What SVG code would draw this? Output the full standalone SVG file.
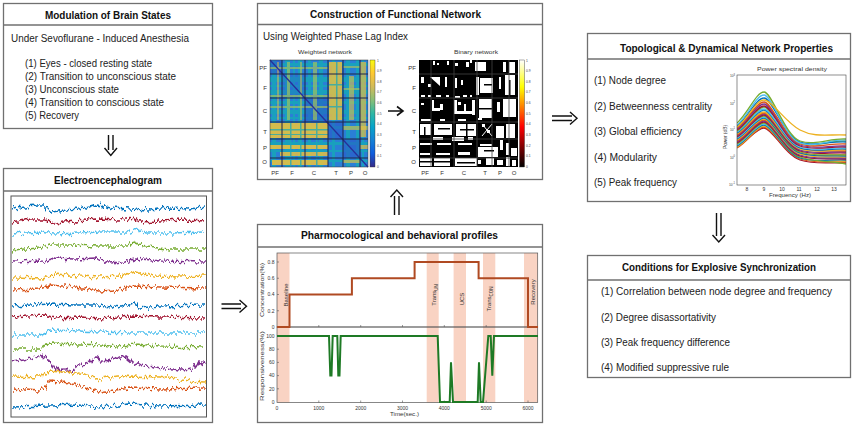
<svg xmlns="http://www.w3.org/2000/svg" width="854" height="426" viewBox="0 0 854 426">
<style>
.box{fill:#fff;stroke:#707070;stroke-width:1.3}
.sep{stroke:#707070;stroke-width:1.3}
.title{font-family:"Liberation Sans",Arial,sans-serif;font-weight:bold;font-size:10.5px;fill:#111;text-anchor:middle}
.body{font-family:"Liberation Sans",Arial,sans-serif;font-size:10px;fill:#222}
.small{font-family:"Liberation Sans",Arial,sans-serif;font-size:6px;fill:#333}
.tiny{font-family:"Liberation Sans",Arial,sans-serif;font-size:5px;fill:#333}
.micro{font-family:"Liberation Sans",Arial,sans-serif;font-size:3.3px;fill:#444}
.ax{fill:none;stroke:#555;stroke-width:0.7}
.trace{fill:none;stroke-width:1.7;stroke-linejoin:round}
.psd{fill:none;stroke-width:1.3}
.arr{fill:none;stroke:#111;stroke-width:1.4}
.band{fill:#f9d3c3}
.wh{fill:#fff}
</style>
<defs>
<linearGradient id="parula" x1="0" y1="1" x2="0" y2="0">
<stop offset="0" stop-color="#352a87"/><stop offset="0.125" stop-color="#0f5cdd"/><stop offset="0.25" stop-color="#1481d6"/><stop offset="0.375" stop-color="#06a4ca"/><stop offset="0.5" stop-color="#2eb7a4"/><stop offset="0.625" stop-color="#87bf77"/><stop offset="0.75" stop-color="#d1bb59"/><stop offset="0.875" stop-color="#fec832"/><stop offset="1" stop-color="#f9fb0e"/>
</linearGradient>
<linearGradient id="hot" x1="0" y1="1" x2="0" y2="0">
<stop offset="0" stop-color="#000"/><stop offset="0.375" stop-color="#f00"/><stop offset="0.75" stop-color="#ff0"/><stop offset="1" stop-color="#fff"/>
</linearGradient>
<filter id="eegNoise" filterUnits="userSpaceOnUse" x="11" y="196" width="196" height="222">
<feTurbulence type="fractalNoise" baseFrequency="0.42 0.07" numOctaves="2" seed="5" result="n"/>
<feDisplacementMap in="SourceGraphic" in2="n" scale="9" xChannelSelector="R" yChannelSelector="G"/>
</filter>
<clipPath id="eegClip"><rect x="12" y="197" width="194" height="219"/></clipPath>
<clipPath id="psdClip"><rect x="737" y="75" width="109" height="110"/></clipPath>
</defs>
<rect width="854" height="426" fill="#fff"/>

<g id="n-brain-states">
<rect class="box" x="3.5" y="3.5" width="209" height="125"/>
<line class="sep" x1="3.5" y1="25" x2="212.5" y2="25"/>
<text class="title" x="108" y="18.5" textLength="126" lengthAdjust="spacingAndGlyphs">Modulation of Brain States</text>
<text class="body" x="11" y="42" textLength="178" lengthAdjust="spacingAndGlyphs">Under Sevoflurane - Induced Anesthesia</text>
<text class="body" x="25" y="67" textLength="127" lengthAdjust="spacingAndGlyphs">(1) Eyes - closed resting state</text>
<text class="body" x="25" y="80" textLength="151" lengthAdjust="spacingAndGlyphs">(2) Transition to unconscious state</text>
<text class="body" x="25" y="93" textLength="94" lengthAdjust="spacingAndGlyphs">(3) Unconscious state</text>
<text class="body" x="25" y="106" textLength="139" lengthAdjust="spacingAndGlyphs">(4) Transition to conscious state</text>
<text class="body" x="25" y="119" textLength="54" lengthAdjust="spacingAndGlyphs">(5) Recovery</text>
</g>

<g id="n-eeg">
<rect class="box" x="3.5" y="168.5" width="209" height="254"/>
<line class="sep" x1="3.5" y1="191" x2="212.5" y2="191"/>
<text class="title" x="108" y="184" textLength="108" lengthAdjust="spacingAndGlyphs">Electroencephalogram</text>
<rect x="11" y="196" width="195.5" height="221" fill="#fff" stroke="#555" stroke-width="1"/>
<g clip-path="url(#eegClip)">
<g filter="url(#eegNoise)">
<path class="trace" stroke="#0072BD" d="M12,209 L25,207 L38,206 L45,206 L52,212 L65,210 L80,209 L97,205 L110,208 L130,209 L150,210 L170,208 L190,209 L205,207"/>
<path class="trace" stroke="#A2142F" d="M12,222 L30,219 L45,219 L55,223 L75,221 L97,219 L120,220 L135,218 L140,222 L160,221 L185,220 L205,221"/>
<path class="trace" stroke="#4DBEEE" d="M12,234 L40,232 L55,234 L80,233 L100,232 L130,232 L137,229 L145,233 L170,233 L205,232"/>
<path class="trace" stroke="#77AC30" d="M12,250 L40,248 L50,245 L70,245 L100,246 L128,246 L134,242 L145,247 L170,249 L205,249"/>
<path class="trace" stroke="#7E2F8E" d="M12,262 L45,261 L55,258 L75,259 L95,258 L108,263 L125,262 L135,258 L160,261 L205,262"/>
<path class="trace" stroke="#EDB120" d="M12,277 L45,278 L55,274 L80,276 L100,277 L120,276 L135,272 L155,276 L180,277 L205,276"/>
<path class="trace" stroke="#D95319" d="M12,290 L40,289 L50,285 L75,287 L100,291 L115,290 L133,286 L160,287 L205,288"/>
<path class="trace" stroke="#0072BD" d="M12,306 L50,304 L75,305 L100,305 L118,308 L135,303 L140,308 L160,306 L205,305"/>
<path class="trace" stroke="#A2142F" d="M12,317 L45,315 L55,318 L80,317 L100,319 L130,316 L160,317 L205,318"/>
<path class="trace" stroke="#4DBEEE" d="M12,335 L40,335 L50,330 L80,331 L100,332 L130,333 L160,333 L205,333"/>
<path class="trace" stroke="#77AC30" d="M12,349 L40,349 L50,343 L80,344 L100,345 L120,347 L135,344 L160,346 L205,347"/>
<path class="trace" stroke="#7E2F8E" d="M12,362 L25,360 L40,356 L48,358 L55,368 L60,372 L65,367 L70,374 L75,366 L85,364 L97,357 L103,362 L112,359 L125,356 L133,363 L145,366 L165,368 L180,370 L195,369 L200,361 L205,364"/>
<path class="trace" stroke="#EDB120" d="M12,376 L40,377 L50,371 L75,373 L100,379 L130,376 L160,377 L190,381 L205,382"/>
<path class="trace" stroke="#D95319" d="M12,389 L40,391 L50,381 L70,383 L100,392 L130,388 L160,389 L205,388"/>
<path class="trace" stroke="#0072BD" d="M12,407 L50,406 L80,405 L100,407 L130,404 L160,406 L205,405"/>
</g>
</g>
</g>

<g id="n-network">
<rect class="box" x="257.5" y="3.5" width="285" height="176"/>
<line class="sep" x1="257.5" y1="24.5" x2="542.5" y2="24.5"/>
<text class="title" x="395.5" y="18" textLength="171" lengthAdjust="spacingAndGlyphs">Construction of Functional Network</text>
<text class="body" x="263" y="40" font-size="10.5" textLength="145" lengthAdjust="spacingAndGlyphs">Using Weighted Phase Lag Index</text>
<text class="small" x="325" y="54" text-anchor="middle" textLength="54" lengthAdjust="spacingAndGlyphs">Weighted network</text>
<text class="small" x="476" y="54" text-anchor="middle" textLength="44" lengthAdjust="spacingAndGlyphs">Binary network</text>
<g id="wmat">
<rect x="270" y="60" width="98" height="107" fill="#2a7fd6"/>
<g fill="#17a6b9" opacity="0.85">
<rect x="272" y="60" width="4" height="107"/><rect x="285" y="60" width="5" height="107"/><rect x="293" y="60" width="2" height="107"/><rect x="298" y="60" width="4" height="107"/><rect x="308" y="60" width="3" height="107"/><rect x="319" y="60" width="4" height="107"/><rect x="332" y="60" width="3" height="107"/><rect x="346" y="60" width="4" height="107"/><rect x="356" y="60" width="3" height="107"/><rect x="362" y="60" width="2" height="107"/>
<rect x="270" y="63" width="98" height="3"/><rect x="270" y="77" width="98" height="5"/><rect x="270" y="85" width="98" height="2"/><rect x="270" y="90" width="98" height="4"/><rect x="270" y="101" width="98" height="3"/><rect x="270" y="110" width="98" height="4"/><rect x="270" y="117" width="98" height="2"/><rect x="270" y="126" width="98" height="3"/><rect x="270" y="142" width="98" height="3"/><rect x="270" y="150" width="98" height="2"/><rect x="270" y="160" width="98" height="2"/>
</g>
<g fill="#2b54c9" opacity="0.55">
<rect x="270" y="60" width="12" height="14"/><rect x="305" y="98" width="23" height="24"/><rect x="328" y="122" width="15" height="17"/><rect x="343" y="139" width="17" height="19"/>
</g>
<rect x="282" y="74" width="23" height="24" fill="#2b54c9" opacity="0.3"/>
<g fill="#f2c23a">
<rect x="329" y="62" width="13" height="58" opacity="0.8"/>
<rect x="270" y="123" width="58" height="15" opacity="0.85"/>
<rect x="270" y="145" width="58" height="4" opacity="0.85"/>
<rect x="280" y="152" width="48" height="4" opacity="0.8"/>
<rect x="272" y="160" width="56" height="5" opacity="0.85"/>
<rect x="360" y="62" width="6" height="75" opacity="0.65"/>
<rect x="349" y="76" width="5" height="44" opacity="0.55"/>
<rect x="343" y="126" width="25" height="4" opacity="0.55"/>
<rect x="360" y="145" width="8" height="4" opacity="0.65"/>
<rect x="343" y="160" width="17" height="3" opacity="0.6"/>
<rect x="300" y="62" width="2" height="58" opacity="0.45"/>
<rect x="277" y="62" width="2" height="58" opacity="0.45"/>
</g>
<g fill="#a9c657" opacity="0.65">
<rect x="287" y="62" width="3" height="58"/><rect x="313" y="62" width="4" height="58"/><rect x="270" y="67" width="58" height="2"/><rect x="270" y="95" width="58" height="2"/><rect x="270" y="106" width="58" height="2"/><rect x="343" y="66" width="17" height="2"/><rect x="343" y="88" width="17" height="2"/>
</g>
<g fill="#1ea9b6" opacity="0.75">
<rect x="270" y="129" width="58" height="1.5"/><rect x="270" y="134" width="58" height="1"/><rect x="290" y="123" width="1.5" height="44"/><rect x="300" y="123" width="1.5" height="44"/><rect x="316" y="123" width="1.5" height="44"/><rect x="329" y="84" width="13" height="1.5"/><rect x="329" y="106" width="13" height="1.5"/><rect x="336" y="62" width="1.5" height="58"/>
</g>
<line x1="270" y1="60" x2="368" y2="167" stroke="#26309a" stroke-width="1.3"/>
<g stroke="#1e2548" stroke-width="1">
<line x1="282" y1="60" x2="282" y2="167"/><line x1="305" y1="60" x2="305" y2="167"/><line x1="328" y1="60" x2="328" y2="167"/><line x1="343" y1="60" x2="343" y2="167"/><line x1="360" y1="60" x2="360" y2="167"/>
<line x1="270" y1="74" x2="368" y2="74"/><line x1="270" y1="98" x2="368" y2="98"/><line x1="270" y1="122" x2="368" y2="122"/><line x1="270" y1="139" x2="368" y2="139"/><line x1="270" y1="158" x2="368" y2="158"/>
</g>
<rect x="270" y="60" width="98" height="107" fill="none" stroke="#333" stroke-width="0.5"/>
<rect x="370" y="60" width="5" height="107" fill="url(#parula)" stroke="#333" stroke-width="0.4"/>
</g>
<g class="micro">
<text x="377" y="62">1</text><text x="377" y="72">0.9</text><text x="377" y="82.5">0.8</text><text x="377" y="93">0.7</text><text x="377" y="104">0.6</text><text x="377" y="114.5">0.5</text><text x="377" y="125">0.4</text><text x="377" y="136">0.3</text><text x="377" y="146.5">0.2</text><text x="377" y="157">0.1</text><text x="377" y="168">0</text>
<text x="526" y="62">1</text><text x="526" y="72">0.9</text><text x="526" y="82.5">0.8</text><text x="526" y="93">0.7</text><text x="526" y="104">0.6</text><text x="526" y="114.5">0.5</text><text x="526" y="125">0.4</text><text x="526" y="136">0.3</text><text x="526" y="146.5">0.2</text><text x="526" y="157">0.1</text><text x="526" y="168">0</text>
</g>
<g class="small" text-anchor="end">
<text x="267" y="70">PF</text><text x="267" y="90">F</text><text x="267" y="113">C</text><text x="267" y="134">T</text><text x="267" y="150">P</text><text x="267" y="164">O</text>
<text x="416" y="70">PF</text><text x="416" y="90">F</text><text x="416" y="113">C</text><text x="416" y="134">T</text><text x="416" y="150">P</text><text x="416" y="164">O</text>
</g>
<g class="small" text-anchor="middle">
<text x="275" y="175">PF</text><text x="292" y="175">F</text><text x="314" y="175">C</text><text x="336" y="175">T</text><text x="351" y="175">P</text><text x="365" y="175">O</text>
<text x="425" y="175">PF</text><text x="442" y="175">F</text><text x="464" y="175">C</text><text x="485" y="175">T</text><text x="500" y="175">P</text><text x="514" y="175">O</text>
</g>
<path d="M388,111 H402 M397,106.5 L403,111 L397,115.5" fill="none" stroke="#111" stroke-width="1.6"/>
<g id="bmat">
<rect x="419" y="60" width="99" height="107" fill="#000"/>
<g class="wh">
<rect x="433" y="61" width="2" height="4"/><rect x="437" y="63" width="2" height="2"/><rect x="447" y="61" width="2" height="4"/><rect x="455" y="63" width="3" height="3"/><rect x="466" y="62" width="3" height="5"/><rect x="470" y="60" width="2" height="3"/><rect x="475" y="62" width="11" height="9"/><rect x="503" y="62" width="3" height="10"/><rect x="509" y="62" width="6" height="11"/>
<rect x="421" y="77" width="3" height="6"/><polygon points="430,77 440,77 440,86"/><rect x="428" y="84" width="3" height="3"/><rect x="445" y="77" width="2" height="10"/><rect x="455" y="78" width="2" height="10"/><rect x="461" y="80" width="2" height="5"/><rect x="476" y="77" width="3" height="18"/><rect x="480" y="78" width="13" height="15"/><rect x="499" y="77" width="2" height="12"/><rect x="505" y="75" width="10" height="20"/>
<rect x="421" y="95" width="4" height="2"/><rect x="428" y="95" width="3" height="2"/><rect x="436" y="95" width="5" height="2"/><rect x="446" y="95" width="3" height="2"/><rect x="455" y="96" width="5" height="2"/><rect x="463" y="95" width="4" height="2"/><rect x="470" y="95" width="2" height="2"/>
<rect x="421" y="103" width="3" height="2"/><rect x="432" y="100" width="2" height="10"/><rect x="432" y="108" width="8" height="3"/><rect x="440" y="104" width="3" height="6"/><rect x="454" y="100" width="3" height="14"/><rect x="458" y="102" width="3" height="3"/><rect x="464" y="104" width="2" height="8"/><rect x="455" y="111" width="18" height="3"/><rect x="472" y="100" width="3" height="15"/>
<rect x="479" y="99" width="13" height="19"/><rect x="497" y="102" width="3" height="10"/><rect x="503" y="99" width="13" height="18"/>
<rect x="421" y="119" width="10" height="2"/><rect x="440" y="119" width="5" height="2"/><rect x="458" y="119" width="8" height="2"/><rect x="478" y="118" width="4" height="2"/>
<rect x="420" y="124" width="11" height="11"/><rect x="434" y="124" width="18" height="11"/><rect x="456" y="124" width="20" height="12"/><rect x="482" y="124" width="3" height="3"/><rect x="487" y="130" width="3" height="3"/><rect x="496" y="126" width="8" height="12"/><rect x="506" y="124" width="9" height="14"/>
<rect x="433" y="137" width="10" height="3"/><rect x="452" y="137" width="12" height="4"/><rect x="468" y="137" width="5" height="3"/>
<rect x="420" y="143" width="12" height="2"/><rect x="437" y="143" width="14" height="2"/><rect x="458" y="143" width="14" height="2"/><rect x="480" y="144" width="12" height="2"/>
<rect x="478" y="147" width="20" height="10"/><rect x="500" y="140" width="3" height="10"/><rect x="506" y="143" width="3" height="12"/><rect x="511" y="148" width="6" height="8"/>
<rect x="420" y="153" width="10" height="2"/><rect x="436" y="153" width="14" height="2"/><rect x="458" y="152" width="12" height="3"/>
<rect x="420" y="158" width="12" height="8"/><rect x="434" y="158" width="16" height="8"/><rect x="455" y="158" width="22" height="8"/><rect x="478" y="160" width="3" height="4"/><rect x="486" y="158" width="8" height="7"/><rect x="497" y="160" width="6" height="5"/><rect x="506" y="157" width="4" height="9"/><rect x="512" y="160" width="4" height="6"/>
</g>
<g fill="#000"><rect x="420" y="161" width="30" height="1.5"/><rect x="457" y="162" width="18" height="1.5"/><rect x="438" y="128" width="12" height="1.5"/><rect x="460" y="129" width="14" height="1.5"/><rect x="424" y="127" width="1.5" height="8"/><rect x="466" y="124" width="1.5" height="12"/><rect x="484" y="150" width="10" height="1.5"/><rect x="509" y="80" width="1.5" height="15"/><rect x="484" y="84" width="8" height="1.5"/><rect x="479" y="108" width="13" height="1.5"/></g>
<line x1="482" y1="124" x2="492" y2="136" stroke="#fff" stroke-width="1"/>
<line x1="492" y1="124" x2="482" y2="136" stroke="#fff" stroke-width="1"/>
<g stroke="#444" stroke-width="0.8">
<line x1="431" y1="60" x2="431" y2="167"/><line x1="454" y1="60" x2="454" y2="167"/><line x1="477" y1="60" x2="477" y2="167"/><line x1="492" y1="60" x2="492" y2="167"/><line x1="509" y1="60" x2="509" y2="167"/>
<line x1="419" y1="74" x2="518" y2="74"/><line x1="419" y1="98" x2="518" y2="98"/><line x1="419" y1="122" x2="518" y2="122"/><line x1="419" y1="139" x2="518" y2="139"/><line x1="419" y1="158" x2="518" y2="158"/>
</g>
<rect x="519.5" y="60" width="5" height="107" fill="url(#hot)" stroke="#333" stroke-width="0.4"/>
</g>
</g>

<g id="n-profiles">
<rect class="box" x="257.5" y="224.5" width="285" height="198"/>
<line class="sep" x1="257.5" y1="247" x2="542.5" y2="247"/>
<text class="title" x="399.5" y="239" textLength="197" lengthAdjust="spacingAndGlyphs">Pharmocological and behavioral profiles</text>
<g>
<rect class="band" x="277" y="253" width="12.5" height="149.5"/>
<rect class="band" x="426.7" y="253" width="12" height="149.5"/>
<rect class="band" x="453.6" y="253" width="12.4" height="149.5"/>
<rect class="band" x="483" y="253" width="12.3" height="149.5"/>
<rect class="band" x="524" y="253" width="13.7" height="149.5"/>
</g>
<rect class="ax" x="277" y="253" width="260.7" height="74"/>
<rect class="ax" x="277" y="327" width="260.7" height="75.5"/>
<g stroke="#555" stroke-width="0.6">
<path d="M277,310.75 h2 M277,294.5 h2 M277,278.25 h2 M277,262 h2 M277,349.2 h2 M277,362.4 h2 M277,375.6 h2 M277,388.8 h2 M277,336 h2"/>
<path d="M318.8,402.5 v-2 M360.7,402.5 v-2 M402.5,402.5 v-2 M444.3,402.5 v-2 M486.2,402.5 v-2 M528,402.5 v-2 M318.8,327 v-2 M360.7,327 v-2 M402.5,327 v-2 M444.3,327 v-2 M486.2,327 v-2 M528,327 v-2"/>
</g>
<g class="tiny" text-anchor="end">
<text x="274.5" y="329">0</text><text x="274.5" y="312.5">0.2</text><text x="274.5" y="296.3">0.4</text><text x="274.5" y="280">0.6</text><text x="274.5" y="263.8">0.8</text>
<text x="274.5" y="338">100</text><text x="274.5" y="351">80</text><text x="274.5" y="364.2">60</text><text x="274.5" y="377.4">40</text><text x="274.5" y="390.6">20</text><text x="274.5" y="403.8">0</text>
</g>
<g class="tiny" text-anchor="middle">
<text x="277" y="409.5">0</text><text x="318.8" y="409.5">1000</text><text x="360.7" y="409.5">2000</text><text x="402.5" y="409.5">3000</text><text x="444.3" y="409.5">4000</text><text x="486.2" y="409.5">5000</text><text x="528" y="409.5">6000</text>
</g>
<text class="small" x="404.5" y="415.5" text-anchor="middle" textLength="29" lengthAdjust="spacingAndGlyphs">Time(sec.)</text>
<text class="small" transform="translate(264,290) rotate(-90)" text-anchor="middle" textLength="54" lengthAdjust="spacingAndGlyphs">Concentration(%)</text>
<text class="small" transform="translate(264,366) rotate(-90)" text-anchor="middle" textLength="70" lengthAdjust="spacingAndGlyphs">Responsiveness(%)</text>
<g class="small" font-size="6.5" fill="#444" text-anchor="middle">
<text transform="translate(287.5,295) rotate(-90)">Baseline</text>
<text transform="translate(435.5,295) rotate(-90)">Trans<tspan font-size="4.5" dy="2">UN</tspan></text>
<text transform="translate(464,299) rotate(-90)">UCS</text>
<text transform="translate(491,299) rotate(-90)">Trans<tspan font-size="4.5" dy="2">CON</tspan></text>
<text transform="translate(535,292) rotate(-90)">Recovery</text>
</g>
<path d="M277,327 H289.5 V294.5 H351.9 V278.3 H414.6 V262 H478.6 V278.3 H528 V327 H538" fill="none" stroke="#b04a22" stroke-width="2"/>
<path d="M277,336 H329 L330.3,375.6 H331.5 L332.7,336 H337.3 L338.3,375.6 H339.5 L340.7,336 H437.7 L440,402 H449.7 L451,362.4 L453,402 H477.7 L479,362.4 L480.7,402 H483 L488.3,336 H490.7 L492.3,375.6 L494,336 H538" fill="none" stroke="#1e7a25" stroke-width="2"/>
</g>

<g id="n-properties">
<rect class="box" x="587.5" y="33.5" width="263" height="168"/>
<line class="sep" x1="587.5" y1="59" x2="850.5" y2="59"/>
<text class="title" x="726.5" y="52" textLength="213" lengthAdjust="spacingAndGlyphs">Topological &amp; Dynamical Network Properties</text>
<text class="body" x="594" y="84" textLength="72" lengthAdjust="spacingAndGlyphs">(1) Node degree</text>
<text class="body" x="594" y="109.5" textLength="118" lengthAdjust="spacingAndGlyphs">(2) Betweenness centrality</text>
<text class="body" x="594" y="135" textLength="88" lengthAdjust="spacingAndGlyphs">(3) Global efficiency</text>
<text class="body" x="594" y="160.5" textLength="63" lengthAdjust="spacingAndGlyphs">(4) Modularity</text>
<text class="body" x="594" y="186" textLength="83" lengthAdjust="spacingAndGlyphs">(5) Peak frequency</text>
<text class="small" x="792" y="70.5" text-anchor="middle" textLength="70" lengthAdjust="spacingAndGlyphs">Power spectral density</text>
<g clip-path="url(#psdClip)">
<path class="psd" stroke="#A2142F" d="M737,147 C748,141.3 756,128 764,128 S785,155 800,160 S830,162 846,163"/>
<path class="psd" stroke="#D95319" d="M737,148 C748,141.7 756,127 764,127 S785,154 800,159 S830,161 846,162"/>
<path class="psd" stroke="#EDB120" d="M737,147 C748,140.7 756,126 764,126 S785,153 800,158 S830,160 846,161"/>
<path class="psd" stroke="#0072BD" d="M737,146 C748,139.7 756,125 764,125 S785,153 800,158 S830,159 846,160"/>
<path class="psd" stroke="#4DBEEE" d="M737,145 C748,138.7 756,124 764,124 S785,151 800,156 S830,157 846,158"/>
<path class="psd" stroke="#77AC30" d="M737,144 C748,137.7 756,123 764,123 S785,152 800,157 S830,161 846,164"/>
<path class="psd" stroke="#A2142F" d="M737,143 C748,136.7 756,122 764,122 S785,151 800,156 S830,158 846,159"/>
<path class="psd" stroke="#7E2F8E" d="M737,142 C748,135.7 756,121 764,121 S785,150 800,155 S830,157 846,158"/>
<path class="psd" stroke="#D95319" d="M737,141 C748,134.7 756,120 764,120 S785,148 800,153 S830,154 846,155"/>
<path class="psd" stroke="#EDB120" d="M737,140 C748,133.7 756,119 764,119 S785,149 800,154 S830,156 846,157"/>
<path class="psd" stroke="#0072BD" d="M737,139 C748,132.7 756,118 764,118 S785,148 800,153 S830,155 846,156"/>
<path class="psd" stroke="#4DBEEE" d="M737,138 C748,131.7 756,117 764,117 S785,145 800,150 S830,151 846,152"/>
<path class="psd" stroke="#77AC30" d="M737,136 C748,130 756,116 764,116 S785,147 800,152 S830,154 846,155"/>
<path class="psd" stroke="#A2142F" d="M737,137 C748,130.4 756,115 764,115 S785,146 800,151 S830,152 846,153"/>
<path class="psd" stroke="#7E2F8E" d="M737,136 C748,129.4 756,114 764,114 S785,145 800,150 S830,151 846,152"/>
<path class="psd" stroke="#D95319" d="M737,135 C748,128.4 756,113 764,113 S785,143 800,148 S830,150 846,151"/>
<path class="psd" stroke="#EDB120" d="M737,134 C748,127.4 756,112 764,112 S785,144 800,149 S830,149 846,150"/>
<path class="psd" stroke="#0072BD" d="M737,133 C748,126.1 756,110 764,110 S785,143 800,148 S830,148 846,149"/>
<path class="psd" stroke="#4DBEEE" d="M737,132 C748,125.1 756,109 764,109 S785,142 800,147 S830,147 846,148"/>
<path class="psd" stroke="#77AC30" d="M737,131 C748,123.8 756,107 764,107 S785,138 800,143 S830,140 846,141"/>
<path class="psd" stroke="#A2142F" d="M737,130 C748,122.8 756,106 764,106 S785,141 800,146 S830,146 846,147"/>
<path class="psd" stroke="#7E2F8E" d="M737,129 C748,121.5 756,104 764,104 S785,140 800,145 S830,145 846,146"/>
<path class="psd" stroke="#D95319" d="M737,128 C748,120.2 756,102 764,102 S785,139 800,144 S830,143 846,144"/>
<path class="psd" stroke="#0072BD" d="M737,126 C748,117.6 756,98 764,98 S785,137 800,142 S830,141 846,142"/>
<path class="psd" stroke="#4DBEEE" d="M737,125 C748,116 756,95 764,95 S785,138 800,143 S830,139 846,140"/>
<path class="psd" stroke="#77AC30" d="M737,123 C748,113.7 756,92 764,92 S785,136 800,141 S830,138 846,139"/>
<path class="psd" stroke="#EDB120" d="M737,127 C748,118.9 756,100 764,100 S785,122 800,130 S830,134 846,135"/>
</g>
<rect x="737" y="75" width="109" height="110" fill="none" stroke="#444" stroke-width="0.6"/>
<g class="micro" text-anchor="end" font-size="3.8">
<text x="735" y="77">10<tspan font-size="2.6" dy="-1.3">3</tspan></text>
<text x="735" y="104.5">10<tspan font-size="2.6" dy="-1.3">2</tspan></text>
<text x="735" y="130.5">10<tspan font-size="2.6" dy="-1.3">1</tspan></text>
<text x="735" y="158.5">10<tspan font-size="2.6" dy="-1.3">0</tspan></text>
<text x="735" y="185.5">10<tspan font-size="2.6" dy="-1.3">-1</tspan></text>
</g>
<g class="tiny" text-anchor="middle">
<text x="747" y="190.5">8</text><text x="764" y="190.5">9</text><text x="782" y="190.5">10</text><text x="799" y="190.5">11</text><text x="817" y="190.5">12</text><text x="834" y="190.5">13</text>
</g>
<text class="small" x="790" y="197" text-anchor="middle" textLength="42" lengthAdjust="spacingAndGlyphs">Frequency (Hz)</text>
<text class="small" transform="translate(727,137) rotate(-90)" text-anchor="middle" textLength="24" lengthAdjust="spacingAndGlyphs">Power (dB)</text>
</g>

<g id="n-conditions">
<rect class="box" x="587.5" y="255.5" width="263" height="122"/>
<line class="sep" x1="587.5" y1="280" x2="850.5" y2="280"/>
<text class="title" x="719" y="270.5" textLength="194" lengthAdjust="spacingAndGlyphs">Conditions for Explosive Synchronization</text>
<text class="body" x="601" y="295" textLength="231" lengthAdjust="spacingAndGlyphs">(1) Correlation between node degree and frequency</text>
<text class="body" x="601" y="320.5" textLength="115" lengthAdjust="spacingAndGlyphs">(2) Degree disassortativity</text>
<text class="body" x="601" y="345.5" textLength="129" lengthAdjust="spacingAndGlyphs">(3) Peak frequency difference</text>
<text class="body" x="601" y="371" textLength="128" lengthAdjust="spacingAndGlyphs">(4) Modified suppressive rule</text>
</g>

<g id="connectors">
<path class="arr" d="M108.5,135 V150 M113,135 V150 M104.5,148 L110.8,155.5 L117,148"/>
<path class="arr" d="M221.5,304 H241 M221.5,308.5 H241 M239.5,300 L246.5,306.2 L239.5,312.5"/>
<path class="arr" d="M394.5,215 V196 M399,215 V196 M390.5,197 L396.8,190 L403,197"/>
<path class="arr" d="M552,116 H572 M552,120.5 H572 M570,112 L577,118.3 L570,124.5"/>
<path class="arr" d="M716.5,213 V236 M721,213 V236 M712.5,235 L718.8,242 L725,235"/>
</g>
</svg>
